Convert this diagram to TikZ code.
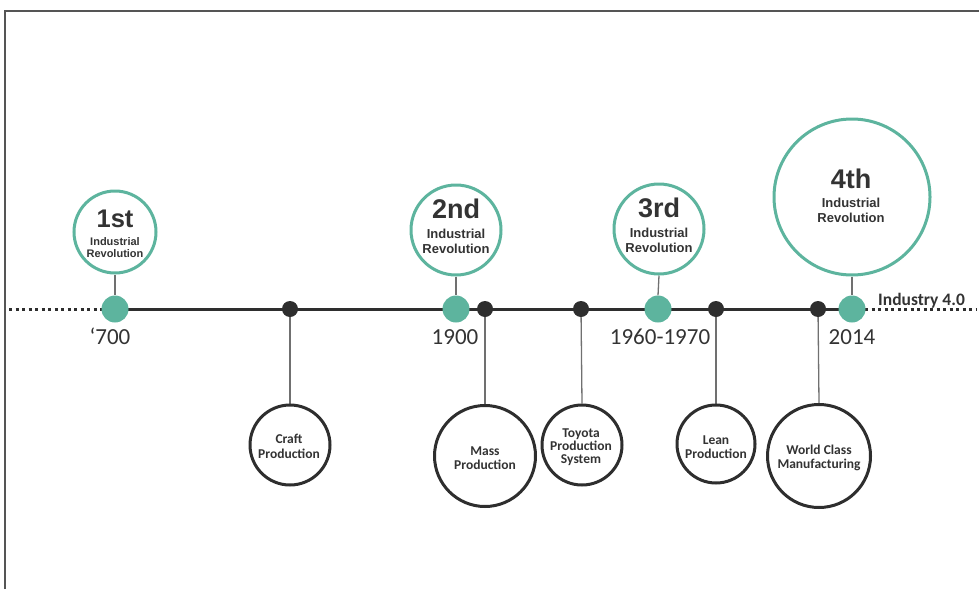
\documentclass[tikz,border=0pt]{standalone}
\usepackage{fontspec}
\setmainfont{Carlito}
\newfontfamily\arialf{Liberation Sans}
\usetikzlibrary{backgrounds}
\definecolor{teal1}{HTML}{5DB49E}
\definecolor{dark1}{HTML}{2E2E2E}
\definecolor{txt1}{HTML}{333333}
\definecolor{conn1}{HTML}{707070}
\definecolor{frame1}{HTML}{555555}
\tikzset{
 revc/.style={circle, draw=teal1, line width=3pt, fill=white, minimum size=#1, inner sep=0pt},
 prodc/.style={circle, draw=dark1, line width=3pt, fill=white, minimum size=#1, inner sep=0pt},
 gdot/.style={circle, fill=teal1, minimum size=27pt, inner sep=0pt},
 bdot/.style={circle, fill=dark1, minimum size=16pt, inner sep=0pt},
 conn/.style={draw=conn1, line width=1.3pt},
 ordt/.style={anchor=base, inner sep=0pt, text=txt1, font=\arialf\bfseries\fontsize{27}{27}\selectfont},
 ords/.style={anchor=base, inner sep=0pt, text=txt1, font=\arialf\bfseries\fontsize{25.5}{25.5}\selectfont},
 revt/.style={anchor=base, inner sep=0pt, text=txt1, font=\arialf\bfseries\fontsize{13}{13}\selectfont},
 revs/.style={anchor=base, inner sep=0pt, text=txt1, font=\arialf\bfseries\fontsize{11}{11}\selectfont},
 prodt/.style={anchor=base, inner sep=0pt, text=txt1, font=\bfseries\fontsize{13.5}{13.5}\selectfont},
 yeart/.style={anchor=base, inner sep=0pt, text=txt1, font=\fontsize{23}{23}\selectfont},
 tline/.style={draw=dark1, line width=3pt},
 dline/.style={draw=dark1, line width=3pt, dash pattern=on 3pt off 3.5pt},
}
\begin{document}
\begin{tikzpicture}[x=1pt,y=-1pt]
\useasboundingbox (0,0) rectangle (979,589);
% frame
\coordinate (fa) at (5,589);
\coordinate (fb) at (5,11);
\coordinate (fc) at (979,11);
\draw[draw=frame1, line width=1.5pt] (fa) -- (fb) -- (fc);
% timeline ends
\coordinate (tl) at (9,309);
\coordinate (tr) at (976,309);
% green dots
\node[gdot] (g1) at (115,309) {};
\node[gdot] (g2) at (456,309) {};
\node[gdot] (g3) at (658,309) {};
\node[gdot] (g4) at (852,309) {};
% black dots
\node[bdot] (b1) at (290,309) {};
\node[bdot] (b2) at (485,309) {};
\node[bdot] (b3) at (581,309) {};
\node[bdot] (b4) at (716,309) {};
\node[bdot] (b5) at (818,309) {};
% revolution circles
\node[revc=82pt] (c1) at (115,232) {};
\node[revc=90pt] (c2) at (456,230) {};
\node[revc=90pt] (c3) at (659,229) {};
\node[revc=156pt] (c4) at (852,197) {};
\node[ords] (c1a) at (115,227) {1st};
\node[revs] (c1b) at (115,245) {Industrial};
\node[revs] (c1c) at (115,257) {Revolution};
\node[ordt] (c2a) at (456,218) {2nd};
\node[revt] (c2b) at (456,238) {Industrial};
\node[revt] (c2c) at (456,253) {Revolution};
\node[ordt] (c3a) at (659,217) {3rd};
\node[revt] (c3b) at (659,237) {Industrial};
\node[revt] (c3c) at (659,252) {Revolution};
\node[ordt] (c4a) at (851,188) {4th};
\node[revt] (c4b) at (851,207) {Industrial};
\node[revt] (c4c) at (851,222) {Revolution};
% production circles
\node[prodc=80pt] (p1) at (290,445) {};
\node[prodc=101pt] (p2) at (485,456) {};
\node[prodc=80pt] (p3) at (582,445) {};
\node[prodc=78pt] (p4) at (716,444) {};
\node[prodc=103pt] (p5) at (819,456) {};
\node[prodt] (p1a) at (289,443) {Craft};
\node[prodt] (p1b) at (289,458) {Production};
\node[prodt] (p2a) at (485,455) {Mass};
\node[prodt] (p2b) at (485,469) {Production};
\node[prodt] (p3a) at (581,437) {Toyota};
\node[prodt] (p3b) at (581,450) {Production};
\node[prodt] (p3c) at (581,463) {System};
\node[prodt] (p4a) at (716,444) {Lean};
\node[prodt] (p4b) at (716,458) {Production};
\node[prodt] (p5a) at (819,454) {World Class};
\node[prodt] (p5b) at (819,468) {Manufacturing};
% years
\node[yeart] (y1) at (110,344) {‘700};
\node[yeart] (y2) at (455,344) {1900};
\node[yeart] (y3) at (660,344) {1960-1970};
\node[yeart] (y4) at (852,344) {2014};
\node[anchor=base west, inner sep=0pt, text=txt1, font=\bfseries\fontsize{17.5}{17.5}\selectfont] (ind) at (878,305) {Industry 4.0};
\begin{scope}[on background layer]
\draw[dline] (tl) -- (g1.center);
\draw[dline] (g4.center) -- (tr);
\draw[tline] (g1.center) -- (g4.center);
\draw[conn] (c1.south) -- (g1.north);
\draw[conn] (c2.south) -- (g2.north);
\draw[conn] (c3.south) -- (g3.north);
\draw[conn] (c4.south) -- (g4.north);
\draw[conn] (b1.center) -- (p1.north);
\draw[conn] (b2.center) -- (p2.north);
\draw[conn] (b3.center) -- (p3.north);
\draw[conn] (b4.center) -- (p4.north);
\draw[conn] (b5.center) -- (p5.north);
\end{scope}
\end{tikzpicture}
\end{document}
